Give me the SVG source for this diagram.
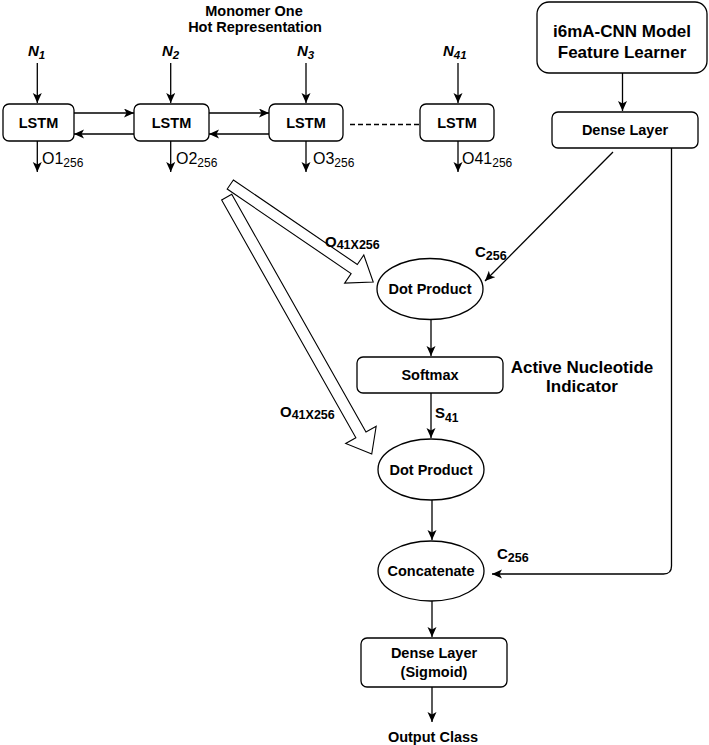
<svg xmlns="http://www.w3.org/2000/svg" width="709" height="745" viewBox="0 0 709 745">
<style>
  .box { fill: #fff; stroke: #000; stroke-width: 1.3; }
  .ln { fill: none; stroke: #000; stroke-width: 1.3; }
  .hol { fill: #fff; stroke: #000; stroke-width: 1.1; stroke-linejoin: miter; }
  .t { font-family: "Liberation Sans", Arial, sans-serif; font-weight: bold; font-size: 14.5px; fill: #000; text-anchor: middle; }
  .big { font-family: "Liberation Sans", Arial, sans-serif; font-weight: bold; font-size: 17px; fill: #000; text-anchor: middle; }
  .n { font-family: "Liberation Sans", Arial, sans-serif; font-weight: bold; font-style: italic; font-size: 15px; fill: #000; }
  .o { font-family: "Liberation Sans", Arial, sans-serif; font-size: 16px; fill: #000; }
  .lab { font-family: "Liberation Sans", Arial, sans-serif; font-weight: bold; font-size: 15px; fill: #000; }
</style>
<defs>
  <marker id="ah" markerUnits="userSpaceOnUse" markerWidth="11" markerHeight="10" refX="10" refY="4.5" orient="auto">
    <path d="M0,0 L10,4.5 L0,9 L2.5,4.5 Z" fill="#000"/>
  </marker>
</defs>

<!-- free labels -->
<g id="title-monomer">
  <text class="t" x="254" y="15.5">Monomer One</text>
  <text class="t" x="255" y="32">Hot Representation</text>
</g>
<g id="n-labels">
  <text class="n" x="28" y="56">N<tspan font-size="11.5" dy="3">1</tspan></text>
  <text class="n" x="162" y="56">N<tspan font-size="11.5" dy="3">2</tspan></text>
  <text class="n" x="297" y="56">N<tspan font-size="11.5" dy="3">3</tspan></text>
  <text class="n" x="443" y="56">N<tspan font-size="11.5" dy="3">41</tspan></text>
</g>

<!-- LSTM nodes -->
<g id="lstm1"><rect class="box" x="3" y="104" width="71" height="37" rx="6"/><text class="t" x="38.5" y="128">LSTM</text></g>
<g id="lstm2"><rect class="box" x="134" y="104" width="75" height="37" rx="6"/><text class="t" x="171.5" y="128">LSTM</text></g>
<g id="lstm3"><rect class="box" x="269" y="104" width="74" height="37" rx="6"/><text class="t" x="306" y="128">LSTM</text></g>
<g id="lstm41"><rect class="box" x="420" y="104" width="74" height="37" rx="6"/><text class="t" x="457" y="128">LSTM</text></g>

<!-- right column -->
<g id="cnn"><rect class="box" x="537" y="2" width="170" height="71" rx="12"/>
  <text class="big" x="622" y="37">i6mA-CNN Model</text>
  <text class="big" x="622" y="58">Feature Learner</text></g>
<g id="dense1"><rect class="box" x="552" y="112" width="146" height="36" rx="6"/><text class="t" x="625" y="135">Dense Layer</text></g>

<!-- center column -->
<g id="dot1"><ellipse class="box" cx="430" cy="289" rx="53" ry="30.5"/><text class="t" x="430" y="294">Dot Product</text></g>
<g id="softmax"><rect class="box" x="357" y="357" width="146" height="36" rx="6"/><text class="t" x="430" y="380">Softmax</text></g>
<g id="indicator">
  <text class="big" x="582" y="373">Active Nucleotide</text>
  <text class="big" x="582" y="392">Indicator</text>
</g>
<g id="dot2"><ellipse class="box" cx="431" cy="469.5" rx="53" ry="30.5"/><text class="t" x="431" y="474.5">Dot Product</text></g>
<g id="concat"><ellipse class="box" cx="431" cy="571" rx="53" ry="30"/><text class="t" x="431" y="576">Concatenate</text></g>
<g id="dense2"><rect class="box" x="361" y="638" width="146" height="49" rx="6"/>
  <text class="t" x="434" y="658">Dense Layer</text>
  <text class="t" x="434" y="677">(Sigmoid)</text></g>
<g id="output"><text class="t" x="433" y="742">Output Class</text></g>

<!-- connectors -->
<g id="connectors">
  <line class="ln" x1="37.3" y1="63" x2="37.3" y2="103" marker-end="url(#ah)"/>
  <line class="ln" x1="170.7" y1="63" x2="170.7" y2="103" marker-end="url(#ah)"/>
  <line class="ln" x1="306" y1="63" x2="306" y2="103" marker-end="url(#ah)"/>
  <line class="ln" x1="458" y1="63" x2="458" y2="103" marker-end="url(#ah)"/>

  <line class="ln" x1="74" y1="113" x2="134" y2="113" marker-end="url(#ah)"/>
  <line class="ln" x1="134" y1="134" x2="74" y2="134" marker-end="url(#ah)"/>
  <line class="ln" x1="209" y1="113" x2="269" y2="113" marker-end="url(#ah)"/>
  <line class="ln" x1="269" y1="134" x2="209" y2="134" marker-end="url(#ah)"/>
  <line class="ln" x1="350" y1="124.5" x2="419" y2="124.5" stroke-dasharray="5 3"/>

  <line class="ln" x1="37.3" y1="141" x2="37.3" y2="172" marker-end="url(#ah)"/>
  <line class="ln" x1="170.7" y1="141" x2="170.7" y2="172" marker-end="url(#ah)"/>
  <line class="ln" x1="306" y1="141" x2="306" y2="172" marker-end="url(#ah)"/>
  <line class="ln" x1="458" y1="141" x2="458" y2="172" marker-end="url(#ah)"/>

  <line class="ln" x1="622.5" y1="73" x2="622.5" y2="111" marker-end="url(#ah)"/>
  <line class="ln" x1="613" y1="152" x2="485" y2="281" marker-end="url(#ah)"/>
  <path class="ln" d="M671.5,148 V566 Q671.5,574 663.5,574 H492" marker-end="url(#ah)"/>

  <line class="ln" x1="431" y1="319.5" x2="431" y2="356" marker-end="url(#ah)"/>
  <line class="ln" x1="431" y1="393" x2="431" y2="438" marker-end="url(#ah)"/>
  <line class="ln" x1="432" y1="500" x2="432" y2="540" marker-end="url(#ah)"/>
  <line class="ln" x1="432" y1="601" x2="432" y2="637" marker-end="url(#ah)"/>
  <line class="ln" x1="432" y1="687" x2="432" y2="722" marker-end="url(#ah)"/>

  <polygon class="hol" transform="translate(226.7,197.2) rotate(60.55)" points="0,-5.8 273,-5.8 273,-17.5 295,0 273,17.5 273,5.8 0,5.8"/>
  <polygon class="hol" transform="translate(230.3,184.5) rotate(34.3)" points="0,-5.5 150,-5.5 150,-17 173,0 150,17 150,5.5 0,5.5"/>
</g>

<!-- edge labels -->
<g id="edge-labels">
  <text class="o" x="42" y="164">O1<tspan font-size="12" dy="3">256</tspan></text>
  <text class="o" x="176" y="164">O2<tspan font-size="12" dy="3">256</tspan></text>
  <text class="o" x="313" y="164">O3<tspan font-size="12" dy="3">256</tspan></text>
  <text class="o" x="462" y="164">O41<tspan font-size="12" dy="3">256</tspan></text>

  <text class="lab" x="325" y="247">O<tspan font-size="12.5" dy="1.5">41X256</tspan></text>
  <text class="lab" x="280" y="417">O<tspan font-size="12.5" dy="1.5">41X256</tspan></text>
  <text class="lab" x="475" y="257">C<tspan font-size="12.5" dy="3">256</tspan></text>
  <text class="lab" x="497" y="559">C<tspan font-size="12.5" dy="3">256</tspan></text>
  <text class="lab" x="435" y="418">S<tspan font-size="12" dy="4">41</tspan></text>
</g>
</svg>
